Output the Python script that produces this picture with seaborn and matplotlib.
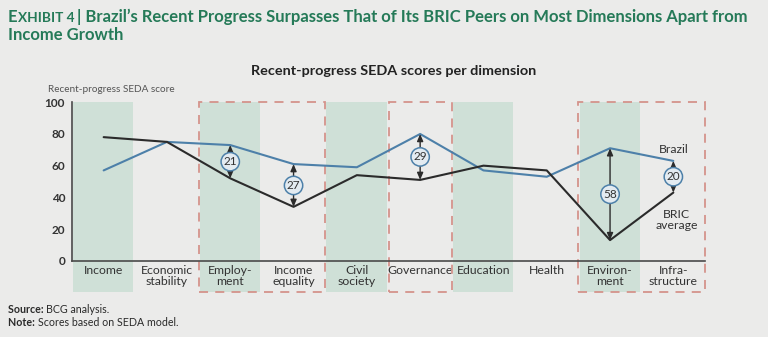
import matplotlib
matplotlib.use("Agg")
import matplotlib.pyplot as plt
from matplotlib.patches import Rectangle
import seaborn as sns
import pandas as pd

# --- data -------------------------------------------------------------
categories = ["Income", "Economic\nstability", "Employ-\nment", "Income\nequality",
              "Civil\nsociety", "Governance", "Education", "Health",
              "Environ-\nment", "Infra-\nstructure"]
brazil = [57, 75, 73, 61, 59, 80, 57, 53, 71, 63]
bric_avg = [78, 75, 52, 34, 54, 51, 60, 57, 13, 43]
gap_labels = {2: 21, 3: 27, 5: 29, 8: 58, 9: 20}
y_ticks = [0, 20, 40, 60, 80, 100]
shaded = [0, 2, 4, 6, 8]
boxes = [(2, 3), (5, 5), (8, 9)]

# --- style ------------------------------------------------------------
sns.set_theme(style="white")
plt.rcParams["font.family"] = ["Lato", "DejaVu Sans"]
BG = "#ebebea"
GREEN = "#257a58"
BAND = "#cfe0d7"
BLUE = "#4d80a9"
DARK = "#2b2b2b"
TXT = "#333333"
BOX = "#d4938b"

W, H = 768, 337
fig = plt.figure(figsize=(W / 100, H / 100), dpi=100, facecolor=BG)


def px(x, y):
    return x / W, 1 - y / H


ax = fig.add_axes([72 / W, 76.3 / H, 633 / W, 158.4 / H])
ax.set_facecolor(BG)

# alternating category bands (extend under the labels)
for i in shaded:
    ax.add_patch(Rectangle((i - 0.48, -19.5), 0.95, 119.5, facecolor=BAND,
                           edgecolor="none", clip_on=False, zorder=0))

# dashed highlight boxes
for a, b in boxes:
    ax.add_patch(Rectangle((a - 0.5, -20), b - a + 1, 120, fill=False,
                           edgecolor=BOX, lw=1.3, linestyle=(0, (5, 4)),
                           clip_on=False, zorder=1))

df = pd.DataFrame({
    "pos": list(range(len(categories))) * 2,
    "score": brazil + bric_avg,
    "series": ["Brazil"] * len(brazil) + ["BRIC average"] * len(bric_avg),
})
sns.lineplot(data=df, x="pos", y="score", hue="series",
             palette={"Brazil": BLUE, "BRIC average": DARK},
             lw=1.5, sort=False, legend=False, ax=ax, zorder=3)

# gap arrows with circled values
for i, g in gap_labels.items():
    lo, hi = bric_avg[i], brazil[i]
    ax.annotate("", xy=(i, hi), xytext=(i, lo),
                arrowprops=dict(arrowstyle="<|-|>,head_length=0.35,head_width=0.15",
                                color=DARK, lw=1.0, shrinkA=0, shrinkB=0),
                zorder=4)
    mid = (lo + hi) / 2
    ax.annotate(str(g), xy=(i, mid), ha="center", va="center", fontsize=8.5,
                color=TXT, zorder=6,
                bbox=dict(boxstyle="circle,pad=0.2", fc="#e3ebf1", ec=BLUE, lw=1.1))

ax.text(9, 70, "Brazil", ha="center", va="center", fontsize=8.8, color=TXT, zorder=5)
ax.text(9.05, 26, "BRIC\naverage", ha="center", va="center", fontsize=8.8,
        color=TXT, linespacing=1.0, zorder=5)

ax.set_xlim(-0.5, 9.5)
ax.set_ylim(0, 100)
ax.set_xticks(range(len(categories)))
ax.set_xticklabels(categories, fontsize=8.8, color=TXT, linespacing=1.05)
ax.set_yticks(y_ticks)
ax.set_yticklabels([str(t) for t in y_ticks], fontsize=8.5, color=TXT, fontweight="bold")
ax.tick_params(axis="both", length=0)
ax.tick_params(axis="x", pad=3)
ax.tick_params(axis="y", pad=5)
ax.set_xlabel("")
ax.set_ylabel("")
for s in ["top", "right"]:
    ax.spines[s].set_visible(False)
for s in ["left", "bottom"]:
    ax.spines[s].set_color("#4a4a4a")
    ax.spines[s].set_linewidth(1.2)

# --- titles and notes -------------------------------------------------
fig.canvas.draw()
renderer = fig.canvas.get_renderer()


def run_text(x0, y0, parts, color):
    """Write text pieces one after another on a shared baseline."""
    x = x0
    for s, size, weight in parts:
        t = fig.text(x / W, 1 - y0 / H, s, fontsize=size, fontweight=weight,
                     color=color, va="baseline", ha="left")
        x += t.get_window_extent(renderer).width
    return x


run_text(8, 22, [("E", 12, "bold"), ("XHIBIT 4 ", 9.8, "bold"),
                 ("| Brazil\u2019s Recent Progress Surpasses That of Its BRIC Peers on Most Dimensions Apart from", 12, "bold")],
         GREEN)
run_text(8, 40, [("Income Growth", 12, "bold")], GREEN)

fig.text(*px(394, 71), "Recent-progress SEDA scores per dimension", ha="center",
         va="center", fontsize=10.4, fontweight="bold", color="#222222")
fig.text(*px(48, 89), "Recent-progress SEDA score", ha="left", va="center",
         fontsize=7.2, color="#555555")

run_text(8, 313, [("Source: ", 7.7, "bold"), ("BCG analysis.", 7.7, "normal")], "#2a2a2a")
run_text(8, 326, [("Note: ", 7.7, "bold"), ("Scores based on SEDA model.", 7.7, "normal")], "#2a2a2a")

fig.savefig("out.png", dpi=100, facecolor=BG)
